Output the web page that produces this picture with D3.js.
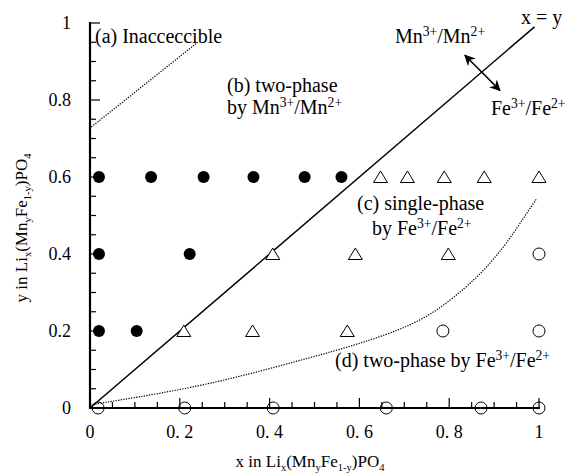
<!DOCTYPE html>
<html>
<head>
<meta charset="utf-8">
<script src="https://cdn.jsdelivr.net/npm/d3@7"></script>
<style>
  html, body { margin: 0; padding: 0; background: #fff; }
  svg { display: block; }
</style>
</head>
<body>
<svg id="chart" width="567" height="473"></svg>
<script>
// Composition points (x, y) in Li_x(Mn_yFe_1-y)PO4
const twoPhaseMn = [
  [0.020, 0.6], [0.136, 0.6], [0.253, 0.6], [0.364, 0.6], [0.478, 0.6], [0.560, 0.6],
  [0.020, 0.4], [0.222, 0.4],
  [0.020, 0.2], [0.104, 0.2]
];
const singlePhaseFe = [
  [0.647, 0.6], [0.707, 0.6], [0.789, 0.6], [0.878, 0.6], [1.000, 0.6],
  [0.407, 0.4], [0.591, 0.4], [0.798, 0.4],
  [0.209, 0.2], [0.362, 0.2], [0.573, 0.2]
];
const twoPhaseFe = [
  [1.000, 0.4],
  [0.786, 0.2], [1.000, 0.2],
  [0.018, 0.0], [0.211, 0.0], [0.408, 0.0], [0.660, 0.0], [0.871, 0.0], [1.000, 0.0]
];

// Boundaries
const diagonal = [[0, 0], [0.99, 0.99]];
const inaccessibleEdge = [[0.003, 0.73], [0.24, 0.95]];
const feBoundary = [
  [0.0, 0.008], [0.211, 0.048], [0.359, 0.089], [0.468, 0.124], [0.579, 0.159],
  [0.690, 0.202], [0.765, 0.245], [0.839, 0.314], [0.884, 0.366], [0.928, 0.427],
  [0.972, 0.505], [0.995, 0.544]
];
const redoxArrow = [[0.835, 0.916], [0.913, 0.825]];

const xTicks = [0, 0.2, 0.4, 0.6, 0.8, 1];
const xTickLabels = ["0", "0. 2", "0. 4", "0. 6", "0. 8", "1"];
const yTicks = [0, 0.2, 0.4, 0.6, 0.8, 1];
const yTickLabels = ["0", "0.2", "0.4", "0.6", "0.8", "1"];
const minorTicks = d3.range(0, 1.0001, 0.05);

const FONT = '"Liberation Serif", "Times New Roman", serif';
const TICK_FS = 18;
const NOTE_FS = 20;
const TITLE_FS = 17;

const svg = d3.select("#chart");
const x = d3.scaleLinear().domain([0, 1]).range([90, 539]);
const y = d3.scaleLinear().domain([0, 1]).range([408, 23]);

const defs = svg.append("defs");
["start", "end"].forEach(id => {
  defs.append("marker")
    .attr("id", "head-" + id)
    .attr("viewBox", "0 0 10 10")
    .attr("refX", 9).attr("refY", 5)
    .attr("markerWidth", 11).attr("markerHeight", 11)
    .attr("markerUnits", "userSpaceOnUse")
    .attr("orient", id === "start" ? "auto-start-reverse" : "auto")
    .append("path").attr("d", "M0,0 L10,5 L0,10 L3,5 Z").attr("fill", "#000");
});

const line = d3.line().x(d => x(d[0])).y(d => y(d[1]));

// Phase boundaries
svg.append("path").datum(diagonal).attr("d", line)
  .attr("fill", "none").attr("stroke", "#000").attr("stroke-width", 1.5);
svg.append("path").datum(inaccessibleEdge).attr("d", line)
  .attr("fill", "none").attr("stroke", "#000").attr("stroke-width", 1.2)
  .attr("stroke-dasharray", "1.3,1.3");
svg.append("path").datum(feBoundary).attr("d", line.curve(d3.curveBasis))
  .attr("fill", "none").attr("stroke", "#000").attr("stroke-width", 1.2)
  .attr("stroke-dasharray", "1.3,1.3");

// Redox arrow
svg.append("line")
  .attr("x1", x(redoxArrow[0][0])).attr("y1", y(redoxArrow[0][1]))
  .attr("x2", x(redoxArrow[1][0])).attr("y2", y(redoxArrow[1][1]))
  .attr("stroke", "#000").attr("stroke-width", 1.5)
  .attr("marker-start", "url(#head-start)").attr("marker-end", "url(#head-end)");

// Axes with inward major and minor ticks
const isMajor = d => Math.abs(d * 5 - Math.round(d * 5)) < 1e-6;
const axisG = svg.append("g");
axisG.selectAll(".xtick").data(minorTicks).join("line")
  .attr("x1", d => x(d)).attr("x2", d => x(d))
  .attr("y1", y(0)).attr("y2", d => y(0) - (isMajor(d) ? 10 : 6))
  .attr("stroke", "#000").attr("stroke-width", 1.2);
axisG.selectAll(".ytick").data(minorTicks).join("line")
  .attr("y1", d => y(d)).attr("y2", d => y(d))
  .attr("x1", x(0)).attr("x2", d => x(0) + (isMajor(d) ? 10 : 6))
  .attr("stroke", "#000").attr("stroke-width", 1.2);
axisG.append("line").attr("x1", x(0) - 1).attr("x2", x(1) + 1).attr("y1", y(0)).attr("y2", y(0))
  .attr("stroke", "#000").attr("stroke-width", 2.2);
axisG.append("line").attr("x1", x(0)).attr("x2", x(0)).attr("y1", y(0) + 1).attr("y2", y(1) - 1)
  .attr("stroke", "#000").attr("stroke-width", 2.2);

axisG.selectAll(".xlab").data(xTicks).join("text")
  .style("font-family", FONT)
  .attr("x", d => x(d)).attr("y", 438)
  .attr("text-anchor", "middle").attr("font-size", TICK_FS)
  .text((d, i) => xTickLabels[i]);
axisG.selectAll(".ylab").data(yTicks).join("text")
  .style("font-family", FONT)
  .attr("x", 71).attr("y", d => y(d) + 6)
  .attr("text-anchor", "end").attr("font-size", TICK_FS)
  .text((d, i) => yTickLabels[i]);

// Rich text: segments of [text, "sub" | "sup" | null]
function rich(g, px, py, parts, size, anchor) {
  const t = g.append("text").attr("x", px).attr("y", py)
    .style("font-family", FONT)
    .attr("font-size", size).attr("text-anchor", anchor || "start");
  let offset = 0;
  parts.forEach(([s, kind]) => {
    const want = kind === "sub" ? size * 0.22 : kind === "sup" ? -size * 0.36 : 0;
    const ts = t.append("tspan").text(s).attr("dy", want - offset);
    if (kind === "sub") ts.attr("font-size", size * 0.62);
    else if (kind === "sup") ts.attr("font-size", size * 0.68);
    offset = want;
  });
  return t;
}

const lab = svg.append("g");
rich(lab, 95, 43, [["(a) Inacceccible", null]], NOTE_FS);
rich(lab, 227, 92, [["(b) two-phase", null]], NOTE_FS);
rich(lab, 227, 114, [["by Mn", null], ["3+", "sup"], ["/Mn", null], ["2+", "sup"]], NOTE_FS);
rich(lab, 395, 43, [["Mn", null], ["3+", "sup"], ["/Mn", null], ["2+", "sup"]], NOTE_FS);
rich(lab, 491, 115, [["Fe", null], ["3+", "sup"], ["/Fe", null], ["2+", "sup"]], NOTE_FS);
rich(lab, 521, 24, [["x = y", null]], NOTE_FS);
rich(lab, 357, 210, [["(c) single-phase", null]], NOTE_FS);
rich(lab, 372, 235, [["by Fe", null], ["3+", "sup"], ["/Fe", null], ["2+", "sup"]], NOTE_FS);
rich(lab, 335, 367, [["(d) two-phase by Fe", null], ["3+", "sup"], ["/Fe", null], ["2+", "sup"]], NOTE_FS);

// Axis titles
rich(svg, 310, 467, [["x in Li", null], ["x", "sub"], ["(Mn", null], ["y", "sub"], ["Fe", null], ["1-y", "sub"], [")PO", null], ["4", "sub"]], TITLE_FS, "middle");
const yt = svg.append("g").attr("transform", "translate(27,228) rotate(-90)");
rich(yt, 0, 0, [["y in Li", null], ["x", "sub"], ["(Mn", null], ["y", "sub"], ["Fe", null], ["1-y", "sub"], [")PO", null], ["4", "sub"]], TITLE_FS, "middle");

// Markers
const pts = svg.append("g");
pts.selectAll(".mn").data(twoPhaseMn).join("circle")
  .attr("cx", d => x(d[0])).attr("cy", d => y(d[1])).attr("r", 6)
  .attr("fill", "#000");
pts.selectAll(".fe1").data(singlePhaseFe).join("path")
  .attr("transform", d => `translate(${x(d[0])},${y(d[1])})`)
  .attr("d", "M0,-6 L7,5.5 L-7,5.5 Z")
  .attr("fill", "#fff").attr("stroke", "#000").attr("stroke-width", 1);
pts.selectAll(".fe2").data(twoPhaseFe).join("circle")
  .attr("cx", d => x(d[0])).attr("cy", d => y(d[1])).attr("r", 6)
  .attr("fill", "none").attr("stroke", "#000").attr("stroke-width", 1);
</script>
</body>
</html>
